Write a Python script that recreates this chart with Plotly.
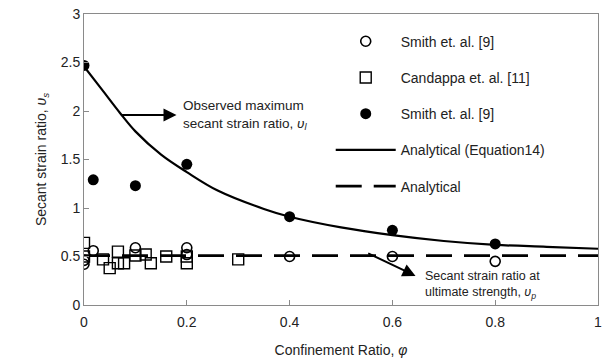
import plotly.graph_objects as go

# Smith et al. [9] - open circles (secant strain ratio at ultimate strength)
smith_open_x = [0.0, 0.0, 0.018, 0.1, 0.2, 0.2, 0.4, 0.6, 0.8]
smith_open_y = [0.46, 0.42, 0.56, 0.59, 0.59, 0.52, 0.50, 0.50, 0.45]

# Candappa et al. [11] - open squares
cand_x = [0.0, 0.0, 0.037, 0.05, 0.066, 0.066, 0.078, 0.1, 0.12, 0.13, 0.16, 0.2, 0.2, 0.3]
cand_y = [0.64, 0.50, 0.47, 0.38, 0.55, 0.43, 0.43, 0.51, 0.52, 0.43, 0.50, 0.50, 0.43, 0.47]

# Smith et al. [9] - filled circles (observed maximum)
smith_fill_x = [0.0, 0.018, 0.1, 0.2, 0.4, 0.6, 0.8]
smith_fill_y = [2.47, 1.29, 1.23, 1.45, 0.91, 0.77, 0.63]

# Analytical (Equation 14) - solid curve
eq14_x = [0.0, 0.035, 0.07, 0.1, 0.15, 0.2, 0.26, 0.35, 0.4, 0.5, 0.6, 0.7, 0.8, 0.9, 1.0]
eq14_y = [2.46, 2.22, 1.98, 1.79, 1.55, 1.37, 1.18, 0.99, 0.91, 0.80, 0.72, 0.66, 0.62, 0.60, 0.58]

# Analytical - dashed line
anal_x = [0.0, 1.0]
anal_y = [0.51, 0.51]

x_ticks = [0, 0.2, 0.4, 0.6, 0.8, 1]
x_ticklabels = ["0", "0.2", "0.4", "0.6", "0.8", "1"]
y_ticks = [0, 0.5, 1, 1.5, 2, 2.5, 3]
y_ticklabels = ["0", "0.5", "1", "1.5", "2", "2.5", "3"]

FONT = "Liberation Sans, Arial, sans-serif"
TXT = "#222222"

fig = go.Figure()
fig.add_trace(go.Scatter(
    x=smith_open_x, y=smith_open_y, mode="markers", name="Smith et. al. [9]",
    legendgroup="a",
    marker=dict(symbol="circle-open", size=10, color="black", line=dict(width=1.6)),
))
fig.add_trace(go.Scatter(
    x=cand_x, y=cand_y, mode="markers", name="Candappa et. al. [11]",
    legendgroup="b",
    marker=dict(symbol="square-open", size=11, color="black", line=dict(width=1.4)),
))
fig.add_trace(go.Scatter(
    x=smith_fill_x, y=smith_fill_y, mode="markers", name="Smith et. al. [9]",
    legendgroup="c",
    marker=dict(symbol="circle", size=11, color="black"),
))
fig.add_trace(go.Scatter(
    x=eq14_x, y=eq14_y, mode="lines", name="Analytical (Equation14)",
    legendgroup="d",
    line=dict(color="black", width=2.2, shape="spline", smoothing=1.0),
))
fig.add_trace(go.Scatter(
    x=anal_x, y=anal_y, mode="lines", name="Analytical",
    legendgroup="e",
    line=dict(color="black", width=2.8, dash="26px,12px"),
))

fig.add_annotation(x=0.18, y=1.96, ax=0.07, ay=1.96, xref="x", yref="y",
                   axref="x", ayref="y", text="", showarrow=True,
                   arrowhead=2, arrowsize=1.3, arrowwidth=2, arrowcolor="black")
fig.add_annotation(x=0.188, y=1.96, xref="x", yref="y", xanchor="left", yanchor="middle",
                   text="Observed maximum<br>secant strain ratio, <i>υ</i><sub><i>l</i></sub>",
                   showarrow=False, align="left",
                   font=dict(family=FONT, size=13.5, color=TXT))
fig.add_annotation(x=0.645, y=0.30, ax=0.55, ay=0.54, xref="x", yref="y",
                   axref="x", ayref="y", text="", showarrow=True,
                   arrowhead=2, arrowsize=1.3, arrowwidth=2, arrowcolor="black")
fig.add_annotation(x=0.66, y=0.21, xref="x", yref="y", xanchor="left", yanchor="middle",
                   text="Secant strain ratio at<br>ultimate strength, <i>υ</i><sub><i>p</i></sub>",
                   showarrow=False, align="left",
                   font=dict(family=FONT, size=12.5, color=TXT))

axis_common = dict(
    showgrid=False, zeroline=False, showline=True, linecolor="#8a8a8a", linewidth=1,
    mirror=True, ticks="inside", ticklen=5, tickcolor="#8a8a8a",
    tickfont=dict(family=FONT, size=14, color=TXT), ticklabeloverflow="allow",
)
fig.update_xaxes(range=[0, 1], tickvals=x_ticks, ticktext=x_ticklabels,
                 ticklabelstandoff=4,
                 title=dict(text="Confinement Ratio, <i>φ</i>", standoff=16,
                            font=dict(family=FONT, size=14, color=TXT)),
                 **axis_common)
fig.update_yaxes(range=[0, 3], tickvals=y_ticks, ticktext=y_ticklabels,
                 title=dict(text="Secant strain ratio, <i>υ</i><sub><i>s</i></sub>", standoff=10,
                            font=dict(family=FONT, size=14, color=TXT)),
                 **axis_common)

fig.update_layout(
    width=604, height=363,
    margin=dict(l=84, r=2, t=14, b=58),
    paper_bgcolor="white", plot_bgcolor="white",
    showlegend=True,
    legend=dict(x=0.48, y=0.96, xanchor="left", yanchor="top",
                bgcolor="rgba(0,0,0,0)", borderwidth=0,
                tracegroupgap=15, itemwidth=60,
                font=dict(family=FONT, size=14, color=TXT)),
)

fig.write_html("out.html")
